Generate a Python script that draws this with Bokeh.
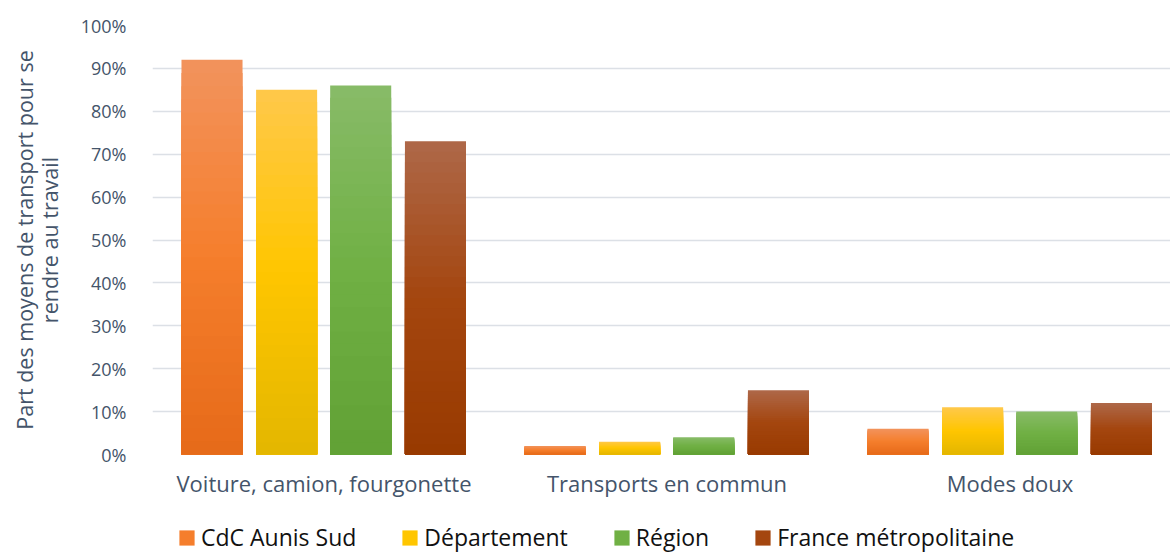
from bokeh.plotting import figure
from bokeh.layouts import column
from bokeh.models import Range1d, FixedTicker, PrintfTickFormatter, Legend, LegendItem
from bokeh.embed import file_html
from bokeh.resources import INLINE

categories = ["Voiture, camion, fourgonette", "Transports en commun", "Modes doux"]
series = ["CdC Aunis Sud", "Département", "Région", "France métropolitaine"]
cdc = [92, 2, 6]
departement = [85, 3, 11]
region = [86, 4, 10]
france = [73, 15, 12]
values = [cdc, departement, region, france]
y_ticks = list(range(0, 101, 10))

# gradient stops (top, middle, bottom) per series
stops = [
    ("#F2935D", "#F57E2C", "#E66A19"),
    ("#FFC84A", "#FFC600", "#E3B600"),
    ("#88BB68", "#70B044", "#61A135"),
    ("#AE6849", "#A4460F", "#983A00"),
]
offsets = [-0.3265, -0.109, 0.107, 0.325]
bar_w = 0.178
N = 30

TEXT = "#44546A"
FONT = "Open Sans"


def hex2rgb(h):
    h = h.lstrip("#")
    return [int(h[i:i + 2], 16) for i in (0, 2, 4)]


def lerp(c1, c2, t):
    a, b = hex2rgb(c1), hex2rgb(c2)
    return "#%02x%02x%02x" % tuple(round(a[i] + (b[i] - a[i]) * t) for i in range(3))


def grad(st, f):
    # f: 1 = top, 0 = bottom
    top, mid, bot = st
    if f >= 0.5:
        return lerp(mid, top, (f - 0.5) / 0.5)
    return lerp(bot, mid, f / 0.5)


frame_left = 152
frame_right = 1170
px_per_cat = 343
x_end = (frame_right - frame_left) / px_per_cat - 0.5

p = figure(width=1170, height=510, output_backend="svg", toolbar_location=None,
           x_range=Range1d(-0.5, x_end), y_range=Range1d(0, 100),
           min_border_left=152, min_border_right=0, min_border_top=25, min_border_bottom=56)
p.outline_line_color = None
p.xgrid.grid_line_color = None
p.ygrid.grid_line_color = "#DCE0E6"
p.ygrid.grid_line_width = 1.5
p.ygrid.ticker = FixedTicker(ticks=y_ticks)

for si, (name, vals, st, off) in enumerate(zip(series, values, stops, offsets)):
    xs = [i + off for i in range(len(categories))]
    for k in range(N):
        f = (N - k) / N
        tops = [v * f for v in vals]
        p.quad(left=[x - bar_w / 2 for x in xs], right=[x + bar_w / 2 for x in xs],
               bottom=[0] * len(vals), top=tops,
               fill_color=grad(st, f - 0.5 / N), line_color=None)

# y axis
p.yaxis.ticker = FixedTicker(ticks=y_ticks)
p.yaxis.formatter = PrintfTickFormatter(format="%d%%")
p.yaxis.axis_line_color = None
p.yaxis.major_tick_line_color = None
p.yaxis.minor_tick_line_color = None
p.yaxis.major_label_text_font = FONT
p.yaxis.major_label_text_font_size = "18px"
p.yaxis.major_label_text_color = TEXT
p.yaxis.major_label_standoff = 20
p.yaxis.axis_label = "Part des moyens de transport pour se\nrendre au travail"
p.yaxis.axis_label_text_font = FONT
p.yaxis.axis_label_text_font_size = "21.5px"
p.yaxis.axis_label_text_font_style = "normal"
p.yaxis.axis_label_text_color = TEXT
p.yaxis.axis_label_text_line_height = 0.85
p.yaxis.axis_label_standoff = 14

# x axis
p.xaxis.ticker = FixedTicker(ticks=list(range(len(categories))))
p.xaxis.major_label_overrides = {i: c for i, c in enumerate(categories)}
p.xaxis.axis_line_color = None
p.xaxis.major_tick_line_color = None
p.xaxis.minor_tick_line_color = None
p.xaxis.major_label_text_font = FONT
p.xaxis.major_label_text_font_size = "22px"
p.xaxis.major_label_text_color = TEXT
p.xaxis.major_label_standoff = 7

# legend strip
q = figure(width=1170, height=42, output_backend="svg", toolbar_location=None,
           x_range=Range1d(0, 1), y_range=Range1d(0, 1),
           min_border_left=0, min_border_right=0, min_border_top=0, min_border_bottom=0)
q.axis.visible = False
q.grid.visible = False
q.outline_line_color = None
nan = float("nan")
items = []
for name, st in zip(series, stops):
    r = q.quad(left=[nan], right=[nan], bottom=[nan], top=[nan], fill_color=st[1], line_color=None)
    items.append(LegendItem(label=name, renderers=[r]))
legend = Legend(items=items, orientation="horizontal", location=(25, -1),
                border_line_color=None, background_fill_alpha=0,
                label_text_font=FONT, label_text_font_size="23px", label_text_color="#111111",
                glyph_width=19, glyph_height=19, label_standoff=5, spacing=44,
                padding=2, margin=0)
q.add_layout(legend, "center")

layout = column(p, q, spacing=0)
open("out.html", "w").write(file_html(layout, INLINE))
